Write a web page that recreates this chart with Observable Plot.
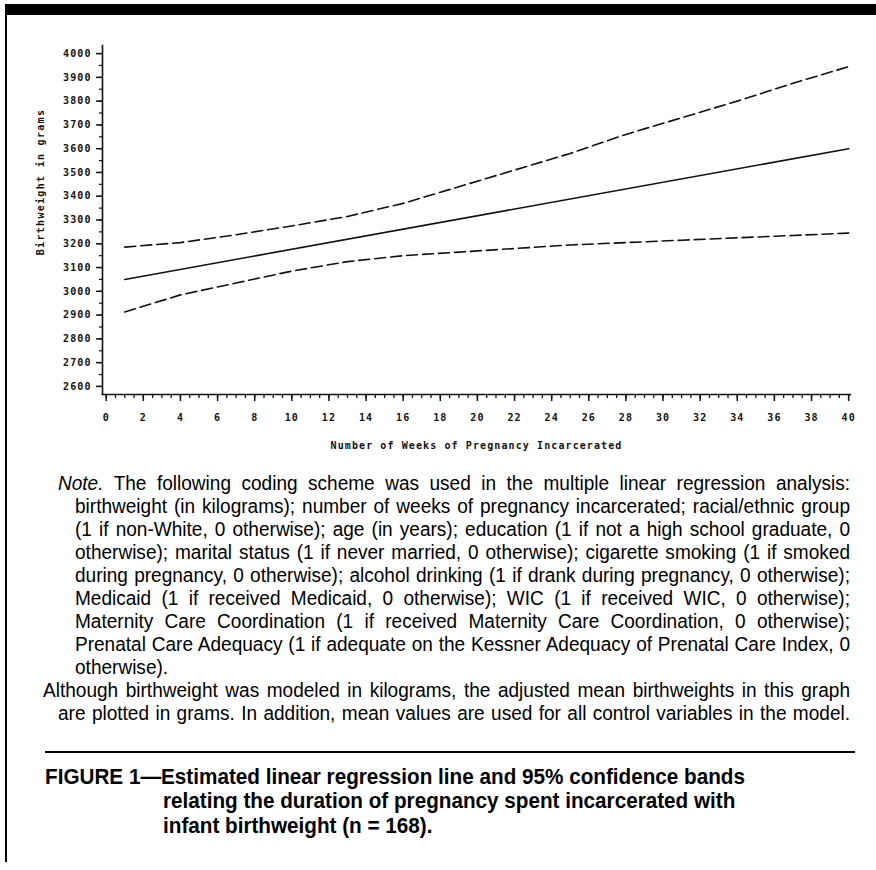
<!DOCTYPE html>
<html>
<head>
<meta charset="utf-8">
<script src="https://cdn.jsdelivr.net/npm/d3@7"></script>
<script src="https://cdn.jsdelivr.net/npm/@observablehq/plot@0.6"></script>
<style>
  html, body { margin: 0; padding: 0; background: #fff; }
  #page { position: relative; width: 876px; height: 870px; overflow: hidden; background: #fff; }
  #chart { position: absolute; left: 0; top: 0; }
  .bar { position: absolute; background: #000; }
  .cap { position: absolute; font-family: "Liberation Sans", Arial, sans-serif;
         color: #000; white-space: nowrap; line-height: 23px; height: 23px; transform-origin: 0 0; }
  .just { text-align: justify; text-align-last: justify; }
  .fig { position: absolute; font-family: "Liberation Sans", Arial, sans-serif;
         font-weight: bold; color: #000; white-space: nowrap; line-height: 25px; height: 25px; transform-origin: 0 0; }
  #ytitle { position: absolute; font-family: "DejaVu Sans Mono", monospace; font-weight: bold; font-size: 10px;
            letter-spacing: 1.3px; color: #111; white-space: nowrap; transform: translate(-50%, -50%) rotate(-90deg); }
</style>
</head>
<body>
<div id="page">
  <div id="chart"></div>
</div>
<script>
// ---------- data ----------
const fitWeeks = [1, 40];
const fitValues = [3050, 3600];

const bandWeeks = [1, 4, 7, 10, 13, 16, 19, 22, 25, 28, 31, 34, 37, 40];
const upperValues = [3186, 3205, 3238, 3275, 3315, 3370, 3440, 3510, 3580, 3660, 3730, 3800, 3875, 3945];
const lowerValues = [2913, 2985, 3035, 3085, 3125, 3150, 3165, 3180, 3195, 3205, 3215, 3225, 3235, 3245];

const xTicks = [0, 2, 4, 6, 8, 10, 12, 14, 16, 18, 20, 22, 24, 26, 28, 30, 32, 34, 36, 38, 40];
const xMinorTicks = d3.range(0, 40.001, 0.5);
const yTicks = [2600, 2700, 2800, 2900, 3000, 3100, 3200, 3300, 3400, 3500, 3600, 3700, 3800, 3900, 4000];
const yMinorTicks = d3.range(2600, 4000.001, 50);

const xTitle = "Number of Weeks of Pregnancy Incarcerated";
const yTitle = "Birthweight in grams";

const noteLines = [
  {html: "<i>Note.</i> The following coding scheme was used in the multiple linear regression analysis:", left: 58, just: true},
  {html: "birthweight (in kilograms); number of weeks of pregnancy incarcerated; racial/ethnic group", left: 75, just: true},
  {html: "(1 if non-White, 0 otherwise); age (in years); education (1 if not a high school graduate, 0", left: 75, just: true},
  {html: "otherwise); marital status (1 if never married, 0 otherwise); cigarette smoking (1 if smoked", left: 75, just: true},
  {html: "during pregnancy, 0 otherwise); alcohol drinking (1 if drank during pregnancy, 0 otherwise);", left: 75, just: true},
  {html: "Medicaid (1 if received Medicaid, 0 otherwise); WIC (1 if received WIC, 0 otherwise);", left: 75, just: true},
  {html: "Maternity Care Coordination (1 if received Maternity Care Coordination, 0 otherwise);", left: 75, just: true},
  {html: "Prenatal Care Adequacy (1 if adequate on the Kessner Adequacy of Prenatal Care Index, 0", left: 75, just: true},
  {html: "otherwise).", left: 75, just: false},
  {html: "Although birthweight was modeled in kilograms, the adjusted mean birthweights in this graph", left: 43, just: true},
  {html: "are plotted in grams. In addition, mean values are used for all control variables in the model.", left: 58, just: true}
];
const figLines = [
  {text: "FIGURE 1\u2014Estimated linear regression line and 95% confidence bands", left: 45},
  {text: "relating the duration of pregnancy spent incarcerated with", left: 163},
  {text: "infant birthweight (n = 168).", left: 163}
];

// ---------- tables ----------
const fitData = fitWeeks.map((w, i) => ({week: w, value: fitValues[i]}));
const upperData = bandWeeks.map((w, i) => ({week: w, value: upperValues[i]}));
const lowerData = bandWeeks.map((w, i) => ({week: w, value: lowerValues[i]}));

const dash = "11,5";
const chart = Plot.plot({
  width: 876,
  height: 470,
  marginLeft: 102,
  marginRight: 26,
  marginTop: 45,
  marginBottom: 76,
  x: {domain: [-0.2, 40.1]},
  y: {domain: [2566, 4034]},
  marks: [
    Plot.axisX({ticks: xMinorTicks, tickSize: 4, text: null, label: null, strokeWidth: 1.3}),
    Plot.axisX({ticks: xTicks, tickSize: 7, tickPadding: 12, tickFormat: d => String(d), label: null, strokeWidth: 1.5}),
    Plot.axisY({ticks: yMinorTicks, tickSize: 3, text: null, label: null, strokeWidth: 1.2}),
    Plot.axisY({ticks: yTicks, tickSize: 6, tickPadding: 5, tickFormat: d => String(d), label: null, strokeWidth: 1.5}),
    Plot.frame({anchor: "left", strokeWidth: 1.6}),
    Plot.frame({anchor: "bottom", strokeWidth: 1.6}),
    Plot.text([xTitle], {frameAnchor: "bottom", dy: 51, lineAnchor: "middle", text: d => d, fontSize: 10}),
    Plot.line(upperData, {x: "week", y: "value", stroke: "#111", strokeWidth: 1.6, strokeDasharray: dash}),
    Plot.line(lowerData, {x: "week", y: "value", stroke: "#111", strokeWidth: 1.6, strokeDasharray: dash}),
    Plot.line(fitData, {x: "week", y: "value", stroke: "#111", strokeWidth: 1.6})
  ]
});
chart.style.fontFamily = "'DejaVu Sans Mono', monospace";
chart.style.fontWeight = "bold";
chart.style.fontSize = "10px";
chart.style.letterSpacing = "1.1px";
chart.style.color = "#111";
chart.style.background = "transparent";
document.getElementById("chart").appendChild(chart);

const page = document.getElementById("page");

// y axis title
const yt = document.createElement("div");
yt.id = "ytitle";
yt.textContent = yTitle;
yt.style.left = "40px";
yt.style.top = "182px";
page.appendChild(yt);

// borders
function bar(l, t, w, h) {
  const d = document.createElement("div");
  d.className = "bar";
  Object.assign(d.style, {left: l + "px", top: t + "px", width: w + "px", height: h + "px"});
  page.appendChild(d);
}
bar(5, 4, 871, 11);     // top thick rule
bar(5, 4, 1.5, 858);    // left border
bar(45, 751, 810, 2);   // rule above figure caption

function naturalWidth(html, font, size, weight) {
  const s = document.createElement("span");
  s.style.cssText = "position:absolute;visibility:hidden;white-space:nowrap;font-family:" + font + ";font-size:" + size + "px;font-weight:" + weight;
  s.innerHTML = html;
  document.body.appendChild(s);
  const w = s.getBoundingClientRect().width;
  s.remove();
  return w;
}

// note text (condensed by horizontal scaling, justified per line)
const right = 850;
const capFont = "'Liberation Sans', Arial, sans-serif";
const capSize = 19.5;
let sx = Infinity;
noteLines.forEach(ln => {
  if (!ln.just) return;
  sx = Math.min(sx, (right - ln.left) / naturalWidth(ln.html, capFont, capSize, "normal"));
});
sx = Math.min(1, sx * 0.99);
noteLines.forEach((ln, i) => {
  const d = document.createElement("div");
  d.className = "cap" + (ln.just ? " just" : "");
  d.innerHTML = ln.html;
  d.style.left = ln.left + "px";
  d.style.top = (483 + 23 * i - 11.5) + "px";
  d.style.fontSize = capSize + "px";
  d.style.width = ((right - ln.left) / sx) + "px";
  d.style.transform = "scaleX(" + sx + ")";
  page.appendChild(d);
});

// figure caption
const figSize = 22;
const figCenters = [776, 800, 825];
const fsx = 700 / naturalWidth(figLines[0].text, capFont, figSize, "bold");
figLines.forEach((ln, i) => {
  const d = document.createElement("div");
  d.className = "fig";
  d.textContent = ln.text;
  d.style.left = ln.left + "px";
  d.style.top = (figCenters[i] - 12.5) + "px";
  d.style.fontSize = figSize + "px";
  d.style.transform = "scaleX(" + fsx + ")";
  page.appendChild(d);
});
</script>
</body>
</html>
